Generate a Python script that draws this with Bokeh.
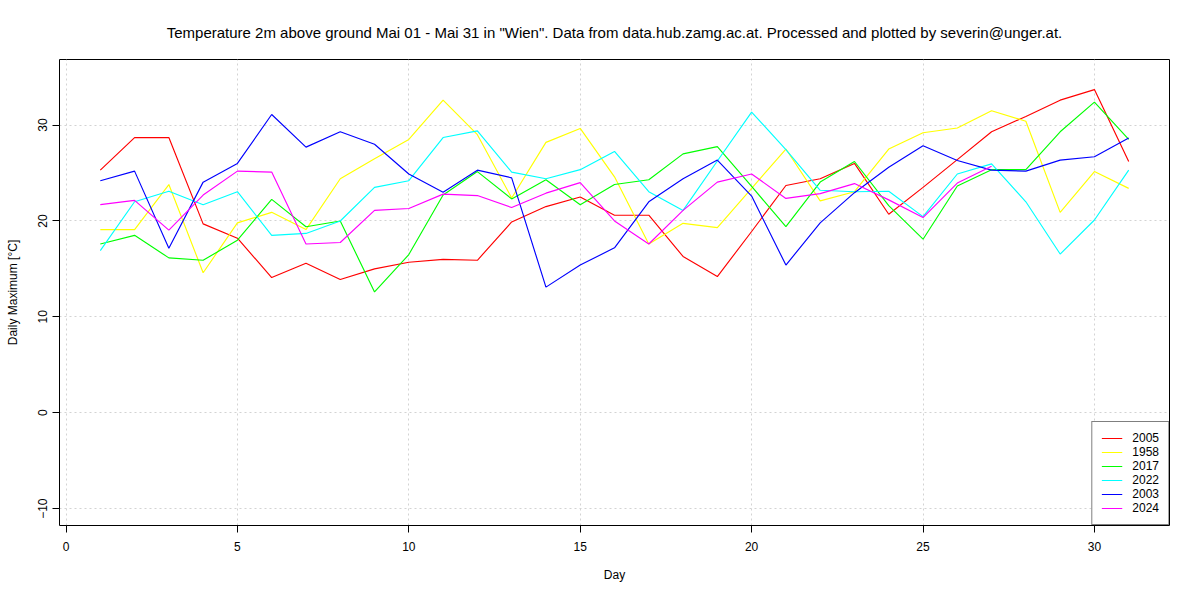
from bokeh.plotting import figure
from bokeh.models import Range1d, FixedTicker, Legend, LegendItem
from bokeh.embed import file_html
from bokeh.resources import INLINE

# ---- data (daily maximum temperature, °C) ----
years = ["2005", "1958", "2017", "2022", "2003", "2024"]
colors = ["#ff0000", "#ffff00", "#00ff00", "#00ffff", "#0000ff", "#ff00ff"]

t2005 = [25.3, 28.7, 28.7, 19.7, 18.2, 14.1, 15.6, 13.9, 15.0, 15.7, 16.0, 15.9, 19.9, 21.5, 22.5, 20.6,
         20.6, 16.3, 14.2, 18.9, 23.7, 24.4, 26.0, 20.7, 23.5, 26.4, 29.3, 30.9, 32.6, 33.7, 26.2]
t1958 = [19.1, 19.1, 23.8, 14.6, 19.8, 20.9, 19.1, 24.4, 26.5, 28.5, 32.6, 29.0, 22.4, 28.2, 29.65, 24.6,
         17.6, 19.75, 19.3, 23.4, 27.5, 22.1, 23.05, 27.5, 29.2, 29.7, 31.5, 30.4, 20.9, 25.15, 23.4]
t2017 = [17.6, 18.5, 16.15, 15.9, 18.0, 22.25, 19.4, 20.0, 12.6, 16.5, 22.7, 25.15, 22.3, 24.3, 21.7, 23.8,
         24.3, 27.0, 27.75, 23.6, 19.4, 24.06, 26.2, 21.6, 18.1, 23.65, 25.35, 25.35, 29.3, 32.4, 28.5]
t2022 = [16.9, 22.0, 23.1, 21.7, 23.05, 18.5, 18.7, 20.0, 23.5, 24.2, 28.7, 29.4, 25.1, 24.4, 25.35, 27.25,
         23.05, 21.1, 26.25, 31.35, 27.45, 23.2, 23.05, 23.1, 20.45, 24.9, 25.95, 22.0, 16.55, 20.1, 25.3]
t2003 = [24.2, 25.2, 17.15, 24.05, 26.0, 31.1, 27.7, 29.3, 28.0, 24.9, 23.0, 25.3, 24.5, 13.1, 15.4, 17.2,
         22.0, 24.4, 26.35, 22.6, 15.4, 19.8, 22.95, 25.6, 27.85, 26.3, 25.3, 25.2, 26.35, 26.7, 28.65]
t2024 = [21.7, 22.15, 19.05, 22.7, 25.2, 25.1, 17.6, 17.75, 21.1, 21.3, 22.8, 22.65, 21.4, 22.9, 24.0, 20.0,
         17.6, 21.1, 24.05, 24.9, 22.35, 22.85, 23.9, 22.2, 20.35, 23.95, 25.7]
series = [t2005, t1958, t2017, t2022, t2003, t2024]

x_ticks = [0, 5, 10, 15, 20, 25, 30]
y_ticks = [-10, 0, 10, 20, 30]

title = ('Temperature 2m above ground Mai 01 - Mai 31 in "Wien". Data from data.hub.zamg.ac.at. '
         'Processed and plotted by severin@unger.at.')

FONT = "Liberation Sans"

p = figure(width=1184, height=584, output_backend="svg", toolbar_location=None,
           x_range=Range1d(-0.19, 32.19), y_range=Range1d(-11.76, 36.84),
           min_border_left=59, min_border_right=15, min_border_top=59, min_border_bottom=58)

p.title.text = title
p.title.align = "center"
p.title.text_font = FONT
p.title.text_font_size = "15px"
p.title.text_font_style = "normal"
p.title.text_color = "black"
p.title.standoff = 37

p.outline_line_color = "black"
p.outline_line_width = 1
p.background_fill_color = "white"
p.border_fill_color = "white"

# axes
for ax, ticks, bounds in ((p.xaxis[0], x_ticks, (0, 30)), (p.yaxis[0], y_ticks, (-10, 30))):
    ax.ticker = FixedTicker(ticks=ticks)
    ax.bounds = bounds
    ax.axis_line_color = "black"
    ax.major_tick_line_color = "black"
    ax.major_tick_out = 7
    ax.major_tick_in = 0
    ax.minor_tick_out = 0
    ax.minor_tick_in = 0
    ax.major_label_text_font = FONT
    ax.major_label_text_font_size = "12px"
    ax.major_label_text_color = "black"
    ax.axis_label_text_font = FONT
    ax.axis_label_text_font_size = "12px"
    ax.axis_label_text_font_style = "normal"
    ax.axis_label_text_color = "black"

p.xaxis.axis_label = "Day"
p.xaxis.major_label_standoff = 9
p.xaxis.axis_label_standoff = 14
p.yaxis.axis_label = "Daily Maximum [°C]"
p.yaxis.major_label_orientation = "parallel"
p.yaxis.major_label_standoff = 5
p.yaxis.axis_label_standoff = 16

# grid
for g in (p.xgrid[0], p.ygrid[0]):
    g.grid_line_color = "#d3d3d3"
    g.grid_line_dash = "2 3"
    g.grid_line_width = 1
p.xgrid.ticker = FixedTicker(ticks=x_ticks)
p.ygrid.ticker = FixedTicker(ticks=y_ticks)

items = []
for yr, col, vals in zip(years, colors, series):
    days = list(range(1, len(vals) + 1))
    r = p.line(days, vals, line_color=col, line_width=1.15)
    items.append(LegendItem(label=yr, renderers=[r]))

legend = Legend(items=items, location="bottom_right", margin=0, padding=9, spacing=0,
                label_height=14, glyph_height=14, glyph_width=21, label_standoff=10,
                border_line_color="black", border_line_width=1, background_fill_color="white",
                background_fill_alpha=1.0, label_text_font=FONT, label_text_font_size="12px",
                label_text_color="black")
p.add_layout(legend)

open("out.html", "w").write(file_html(p, INLINE))
